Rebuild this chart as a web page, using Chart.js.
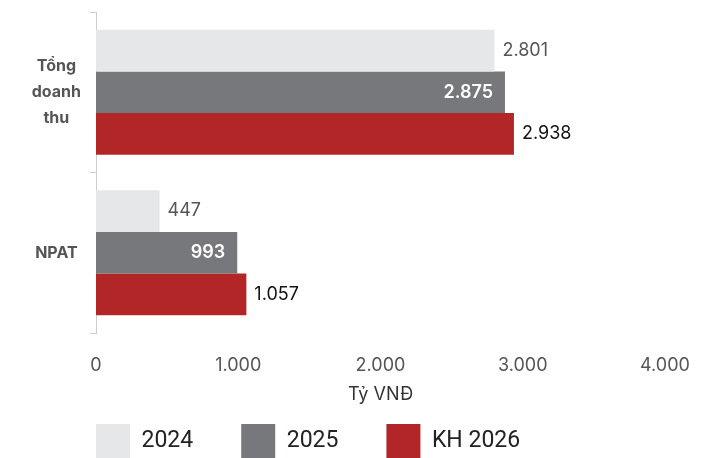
<!DOCTYPE html>
<html>
<head>
<meta charset="utf-8">
<script src="https://cdn.jsdelivr.net/npm/chart.js@4.4.1/dist/chart.umd.min.js"></script>
<style>
  html, body { margin: 0; padding: 0; background: #fff; overflow: hidden; }
  #wrap { width: 722px; height: 504px; }
</style>
</head>
<body>
<div id="wrap"><canvas id="grafico"></canvas></div>
<script>
// du lieu doc tu hinh
var danhMuc = [['Tổng', 'doanh', 'thu'], 'NPAT'];
var nam2024 = [2801, 447];
var nam2025 = [2875, 993];
var kh2026 = [2938, 1057];
var nhanSeries = ['2024', '2025', 'KH 2026'];
var mocTruc = [0, 1000, 2000, 3000, 4000];

var FONT = 'Inter, "Liberation Sans", Arial, sans-serif';
var FONT_CHU = 'Roboto, "Liberation Sans", Arial, sans-serif';

function dinhDang(v) {
    return Number(v).toLocaleString('de-DE');
}

// ve nhan so tren moi thanh
var nhanGiaTri = {
    id: 'nhanGiaTri',
    afterLayout: function (chart) {
        // dich chu thich sang phai va len tren
        chart.legend.left += 48;
        chart.legend.top = chart.chartArea.bottom + 43;
    },
    afterDatasetsDraw: function (chart) {
        var ctx = chart.ctx;
        ctx.save();
        ctx.textBaseline = 'middle';
        chart.data.datasets.forEach(function (ds, i) {
            var meta = chart.getDatasetMeta(i);
            meta.data.forEach(function (bar, j) {
                var txt = dinhDang(ds.data[j]);
                if (i === 1) {
                    ctx.font = '600 18px ' + FONT;
                    ctx.fillStyle = '#ffffff';
                    ctx.textAlign = 'right';
                    ctx.fillText(txt, bar.x - 12, bar.y);
                } else {
                    ctx.font = '18px ' + FONT;
                    ctx.fillStyle = i === 0 ? '#555555' : '#111111';
                    ctx.textAlign = 'left';
                    ctx.fillText(txt, bar.x + 8, bar.y);
                }
            });
        });
        ctx.restore();
    }
};

var ctx = document.getElementById('grafico');

var myChart = new Chart(ctx, {
    type: 'bar',
    data: {
        labels: danhMuc,
        datasets: [{
            label: nhanSeries[0],
            data: nam2024,
            backgroundColor: '#e6e7e9'
        }, {
            label: nhanSeries[1],
            data: nam2025,
            backgroundColor: '#77787b'
        }, {
            label: nhanSeries[2],
            data: kh2026,
            backgroundColor: '#b22627'
        }]
    },
    options: {
        indexAxis: 'y',
        responsive: true,
        maintainAspectRatio: false,
        animation: false,
        datasets: {
            bar: {
                categoryPercentage: 0.78,
                barPercentage: 1,
                borderWidth: 0
            }
        },
        layout: {
            padding: { top: 12, right: 57, left: 0, bottom: 0 }
        },
        scales: {
            x: {
                min: 0,
                max: 4000,
                afterBuildTicks: function (axis) {
                    axis.ticks = mocTruc.map(function (v) { return { value: v }; });
                },
                afterFit: function (axis) { axis.height = 79; },
                grid: { display: false },
                border: { display: false },
                ticks: {
                    padding: 14,
                    color: '#555555',
                    font: { size: 18, family: FONT },
                    callback: function (v) { return dinhDang(v); }
                },
                title: {
                    display: true,
                    text: 'Tỷ VNĐ',
                    color: '#333333',
                    font: { size: 18, family: FONT },
                    padding: { top: 4, bottom: 7 }
                }
            },
            y: {
                afterFit: function (axis) {
                    axis.width = 96;
                    axis.paddingTop = 0;
                    axis.paddingBottom = 0;
                },
                grid: {
                    offset: true,
                    drawOnChartArea: false,
                    color: '#cccccc',
                    tickLength: 6
                },
                border: { color: '#cccccc' },
                ticks: {
                    crossAlign: 'center',
                    padding: 9,
                    color: '#555555',
                    font: { size: 16, weight: 'bold', family: FONT, lineHeight: 1.6 }
                }
            }
        },
        plugins: {
            legend: {
                position: 'bottom',
                align: 'start',
                labels: {
                    boxWidth: 34,
                    boxHeight: 34,
                    padding: 48,
                    color: '#222222',
                    font: { size: 23, family: FONT_CHU }
                }
            },
            tooltip: { enabled: false }
        }
    },
    plugins: [nhanGiaTri]
});
</script>
</body>
</html>
